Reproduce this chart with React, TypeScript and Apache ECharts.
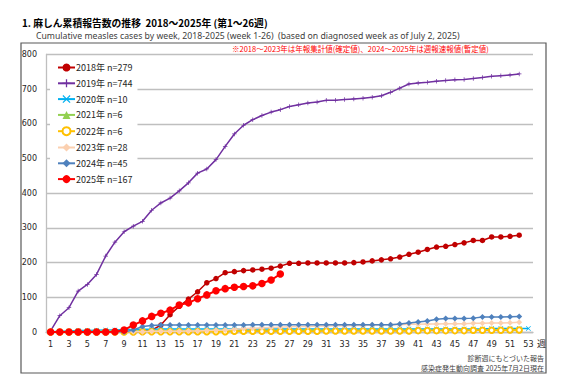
import React, { useEffect, useRef } from "react";
import * as echarts from "echarts";

const weeks = [
  "1","2","3","4","5","6","7","8","9","10","11","12","13","14","15","16","17","18","19","20",
  "21","22","23","24","25","26","27","28","29","30","31","32","33","34","35","36","37","38","39","40",
  "41","42","43","44","45","46","47","48","49","50","51","52","53",
];

const seriesNames = [
  "2018年 n=279",
  "2019年 n=744",
  "2020年 n=10",
  "2021年 n=6",
  "2022年 n=6",
  "2023年 n=28",
  "2024年 n=45",
  "2025年 n=167",
];

const y2018 = [
  0,0,0,0,0,0,0,0,0,0,2,5,20,50,74,95,116,142,154,171,
  174,177,179,181,184,190,198,198,199,199,199,199,199,200,202,205,208,211,216,224,
  230,238,245,247,252,257,264,264,274,274,276,279,
];
const y2019 = [
  3,47,70,118,137,166,219,259,289,305,319,351,372,386,407,430,458,470,497,535,
  571,596,612,624,634,641,650,655,660,663,668,668,670,672,674,677,681,691,703,715,
  718,720,723,725,727,728,731,734,737,739,741,744,
];
const y2020 = [
  1,2,3,4,4,5,6,6,7,7,8,8,9,9,9,9,9,9,9,9,
  9,9,9,9,9,9,9,9,9,9,9,9,9,9,9,9,9,9,9,9,
  9,9,9,9,9,9,9,9,10,10,10,10,10,
];
const y2021 = [
  0,0,1,1,1,2,2,2,2,2,3,3,3,3,3,3,3,4,4,4,
  4,4,4,4,4,4,5,5,5,5,5,5,5,5,5,5,5,5,5,5,
  5,5,5,6,6,6,6,6,6,6,6,6,
];
const y2022 = [
  0,0,0,0,0,0,0,0,0,0,1,1,1,1,1,1,1,1,1,1,
  2,2,2,2,2,2,2,2,2,2,3,3,3,3,3,3,3,3,3,3,
  4,4,4,4,4,4,5,5,5,5,6,6,
];
const y2023 = [
  0,0,0,0,0,0,0,0,1,1,1,2,2,2,2,3,3,4,5,6,
  8,10,11,12,13,14,15,16,16,17,17,18,18,19,19,20,20,21,21,22,
  22,23,23,24,24,24,25,25,26,26,27,28,
];
const y2024 = [
  0,0,0,0,0,0,0,0,0,6,16,19,20,20,20,20,20,20,20,20,
  20,20,21,21,21,21,21,21,21,21,21,21,21,21,21,21,21,21,23,26,
  29,32,37,39,39,39,40,43,43,43,44,45,
];
const y2025 = [
  0,0,0,0,0,0,0,1,6,20,32,45,54,63,78,84,96,107,119,125,
  129,131,133,140,150,167,
];

const colors = ["#c00000", "#7030a0", "#00b0f0", "#92d050", "#ffc000", "#fbd0b0", "#4f81bd", "#ff0000"];

const PLUS = "path://M-0.8,-5H0.8V-0.8H5V0.8H0.8V5H-0.8V0.8H-5V-0.8H-0.8Z";
const CROSS = "path://M-5,-4L-4,-5L0,-1L4,-5L5,-4L1,0L5,4L4,5L0,1L-4,5L-5,4L-1,0Z";

export default function App() {
  const ref = useRef<HTMLDivElement>(null);
  useEffect(() => {
    if (!ref.current) return;
    const chart = echarts.init(ref.current, undefined, { renderer: "svg" });
    const datas = [y2018, y2019, y2020, y2021, y2022, y2023, y2024, y2025];
    const symbols = ["circle", PLUS, CROSS, "triangle", "emptyCircle", "diamond", "diamond", "circle"];
    const sizes = [5.5, 4.5, 5, 6, 5.5, 6, 6, 7.5];
    const widths = [1.5, 1.5, 1.5, 1.5, 1.5, 1.5, 1.5, 2];
    const series = datas.map((d, i) => ({
      name: seriesNames[i],
      type: "line",
      data: d,
      symbol: symbols[i],
      symbolSize: sizes[i],
      showSymbol: true,
      showAllSymbol: true,
      lineStyle: { color: colors[i], width: widths[i] },
      itemStyle: { color: colors[i], borderColor: colors[i], borderWidth: i === 4 ? 1.5 : 0 },
      emphasis: { disabled: true },
      z: 2 + i,
    }));
    chart.setOption({
      animation: false,
      backgroundColor: "#ffffff",
      grid: { left: 46, right: 34, top: 54.5, bottom: 58, containLabel: false },
      legend: {
        orient: "vertical",
        left: 50,
        top: 57,
        padding: [6, 5, 6, 7],
        itemWidth: 17,
        itemHeight: 10,
        itemGap: 6.8,
        backgroundColor: "#ffffff",
        data: seriesNames,
        textStyle: { fontFamily: "Noto Sans CJK JP", fontSize: 9, color: "#262626", padding: [0, 0, 0, -4] },
      },
      xAxis: {
        type: "category",
        data: weeks,
        boundaryGap: true,
        axisLine: { show: true, lineStyle: { color: "#bfbfbf", width: 1.3 } },
        axisTick: { show: false },
        axisLabel: { interval: 1, fontFamily: "DejaVu Sans", fontSize: 8, color: "#262626", margin: 8 },
        splitLine: { show: false },
      },
      yAxis: {
        type: "value",
        min: 0,
        max: 800,
        interval: 100,
        axisLine: { show: true, lineStyle: { color: "#bfbfbf", width: 1.3 } },
        axisTick: { show: false },
        axisLabel: { fontFamily: "DejaVu Sans", fontSize: 8, color: "#262626", margin: 9 },
        splitLine: { show: true, lineStyle: { color: "#bfbfbf", width: 1.3 } },
      },
      graphic: [
        {
          type: "rect",
          shape: { x: 21, y: 43, width: 525, height: 330 },
          style: { fill: "none", stroke: "#595959", lineWidth: 1.2 },
          z: 0,
        },
        {
          type: "text",
          x: 22,
          y: 22.5,
          style: {
            text: "1. 麻しん累積報告数の推移  2018～2025年 (第1～26週)",
            fontFamily: "Noto Sans CJK JP",
            fontWeight: "bold",
            fontSize: 9.8,
            fill: "#000000",
            verticalAlign: "middle",
          },
        },
        {
          type: "text",
          x: 36,
          y: 36,
          style: {
            text: "Cumulative measles cases by week, 2018-2025 (week 1-26)  (based on diagnosed week as of July 2, 2025)",
            fontFamily: "Noto Sans",
            fontSize: 8.7,
            fill: "#404040",
            verticalAlign: "middle",
          },
        },
        {
          type: "text",
          x: 232,
          y: 48.5,
          style: {
            text: "※2018～2023年は年報集計値(確定値)、2024～2025年は週報速報値(暫定値)",
            fontFamily: "Noto Sans CJK JP",
            fontSize: 7.5,
            fill: "#ff0000",
            verticalAlign: "middle",
          },
        },
        {
          type: "text",
          x: 537,
          y: 343,
          style: {
            text: "週",
            fontFamily: "Noto Sans CJK JP",
            fontSize: 9,
            fill: "#262626",
            verticalAlign: "middle",
          },
        },
        {
          type: "text",
          x: 544,
          y: 358.3,
          style: {
            text: "診断週にもとづいた報告",
            fontFamily: "Noto Sans CJK JP",
            fontSize: 7,
            fill: "#404040",
            align: "right",
            verticalAlign: "middle",
          },
        },
        {
          type: "text",
          x: 544,
          y: 368,
          style: {
            text: "感染症発生動向調査 2025年7月2日現在",
            fontFamily: "Noto Sans CJK JP",
            fontSize: 7,
            fill: "#404040",
            align: "right",
            verticalAlign: "middle",
          },
        },
      ],
      series,
    });
    return () => chart.dispose();
  }, []);
  return (
    <div
      ref={ref}
      style={{ position: "fixed", left: 0, top: 0, width: 567, height: 390 }}
    />
  );
}
